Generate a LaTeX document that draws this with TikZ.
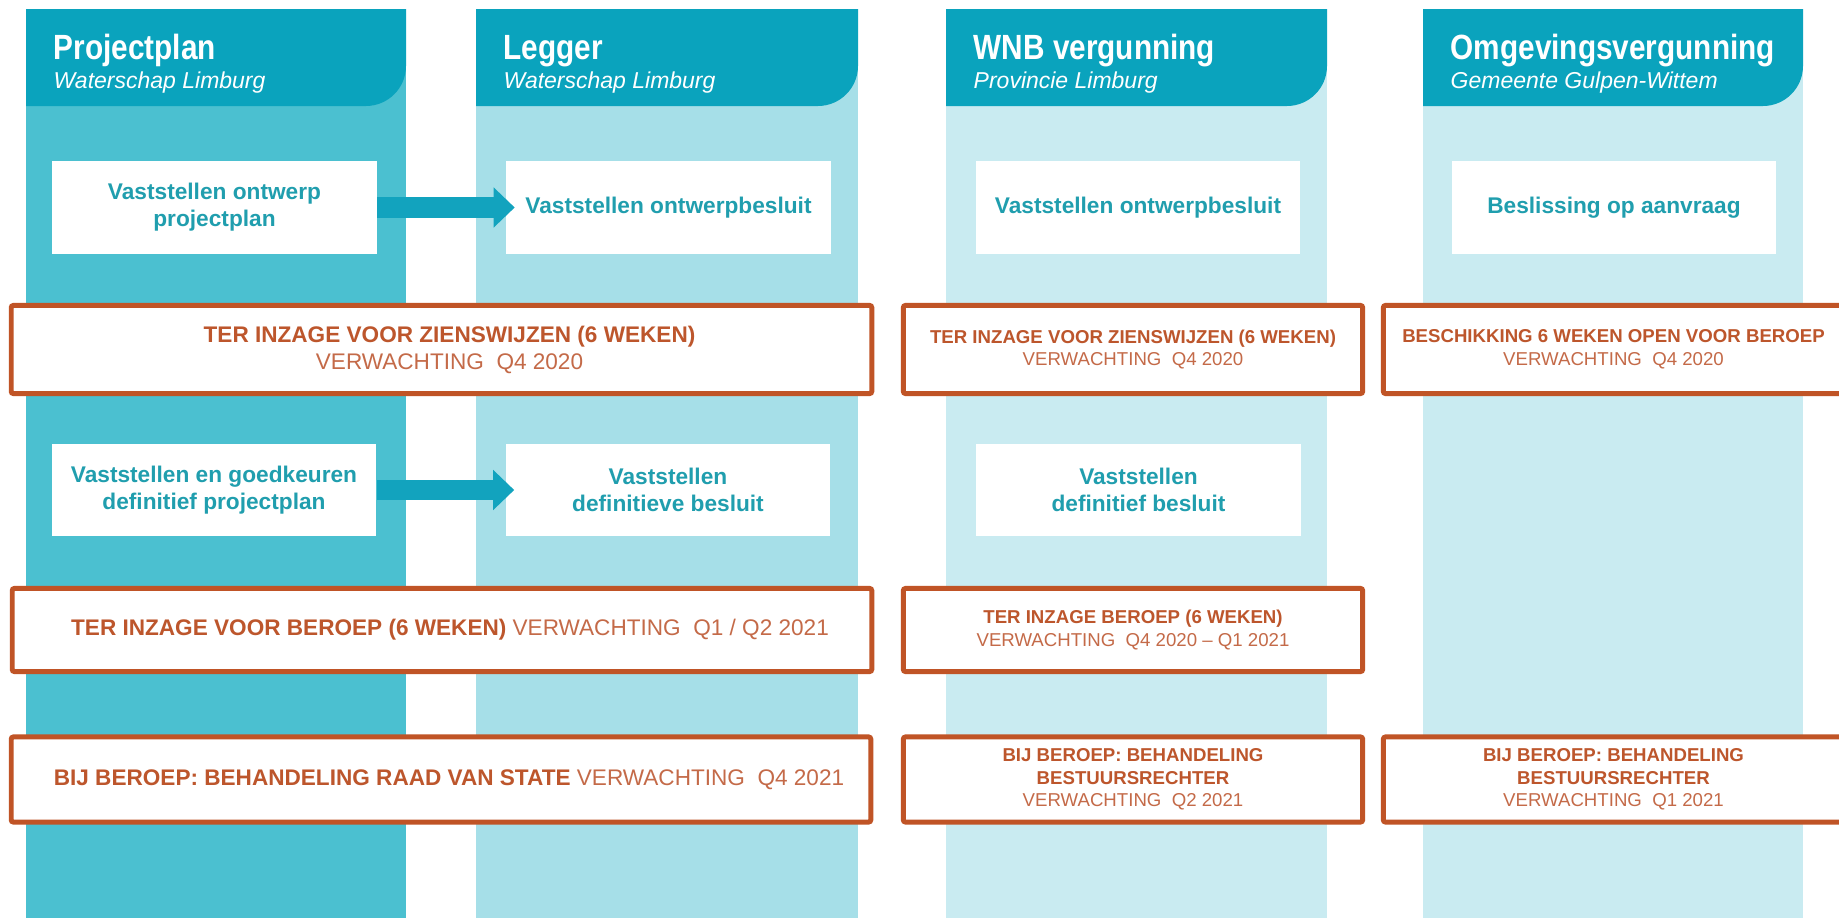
\documentclass[tikz,border=0pt]{standalone}
\usepackage{fontspec}
\setmainfont{Liberation Sans}
\newfontfamily\ttlfont[FakeStretch=0.85]{Liberation Sans}
\usetikzlibrary{arrows.meta}
\definecolor{hdr}{RGB}{10,163,189}
\definecolor{colA}{RGB}{75,192,208}
\definecolor{colB}{RGB}{166,223,232}
\definecolor{colC}{RGB}{201,235,241}
\definecolor{tealtxt}{RGB}{32,158,174}
\definecolor{orng}{RGB}{192,84,38}
\definecolor{orngtxt}{RGB}{189,86,44}
\definecolor{orngreg}{RGB}{196,106,72}
\definecolor{arrowc}{RGB}{18,163,190}
\newcommand\shiftr{\hspace*{0.16cm}}
\tikzset{
 whitebox/.style={fill=white, draw=none, inner sep=0pt, minimum width=3.24cm, minimum height=0.92cm, align=center, text=tealtxt, font=\fontsize{6.45pt}{7.7pt}\selectfont\bfseries},
 obox/.style={draw=orng, line width=1.42pt, fill=white, rounded corners=0.6pt, inner sep=0pt, align=center, text=orngtxt},
 obig/.style={obox, font=\fontsize{6.42pt}{7.7pt}\selectfont},
 osmall/.style={obox, font=\fontsize{5.3pt}{6.4pt}\selectfont},
 ttl/.style={anchor=base west, inner sep=0pt, text=white, font=\ttlfont\fontsize{9.96pt}{12pt}\selectfont\bfseries},
 sub/.style={anchor=base west, inner sep=0pt, text=white, font=\fontsize{6.54pt}{8pt}\selectfont\itshape},
 flow/.style={draw=arrowc, line width=5.7pt, -{Triangle[length=6pt,width=11.1pt]}, shorten >=-0.09cm},
}
\begin{document}
\begin{tikzpicture}[x=0.01cm,y=-0.01cm]
\clip (0,0) rectangle (1839,918);
\fill[white] (0,0) rectangle (1839,918);
% columns
\fill[colA] (26,9) rectangle (406,925);
\fill[colB] (476,9) rectangle (858,925);
\fill[colC] (946,9) rectangle (1327,925);
\fill[colC] (1423,9) rectangle (1803,925);
% headers
\fill[hdr] (26,9) -- (406,9) -- (406,66) .. controls (406,88) and (388,106) .. (366,106) -- (26,106) -- cycle;
\fill[hdr] (476,9) -- (858,9) -- (858,66) .. controls (858,88) and (840,106) .. (818,106) -- (476,106) -- cycle;
\fill[hdr] (946,9) -- (1327,9) -- (1327,66) .. controls (1327,88) and (1309,106) .. (1287,106) -- (946,106) -- cycle;
\fill[hdr] (1423,9) -- (1803,9) -- (1803,66) .. controls (1803,88) and (1785,106) .. (1763,106) -- (1423,106) -- cycle;
\node[ttl] (t1) at (53,60) {Projectplan};
\node[sub] (s1) at (53,88) {Waterschap Limburg};
\node[ttl] (t2) at (503,60) {Legger};
\node[sub] (s2) at (503,88) {Waterschap Limburg};
\node[ttl] (t3) at (973,60) {WNB vergunning};
\node[sub] (s3) at (973,88) {Provincie Limburg};
\node[ttl] (t4) at (1450,60) {Omgevingsvergunning};
\node[sub] (s4) at (1450,88) {Gemeente Gulpen-Wittem};
% white boxes
\node[whitebox] (w11) at (214.5,207.5) {Vaststellen ontwerp\\projectplan};
\node[whitebox] (w12) at (668.5,207.5) {Vaststellen ontwerpbesluit};
\node[whitebox] (w13) at (1138,207.5) {Vaststellen ontwerpbesluit};
\node[whitebox] (w14) at (1614,207.5) {Beslissing op aanvraag};
\node[whitebox] (w21) at (214,490) {Vaststellen en goedkeuren\\definitief projectplan};
\node[whitebox] (w22) at (668,490) {Vaststellen\\definitieve besluit};
\node[whitebox] (w23) at (1138.5,490) {Vaststellen\\definitief besluit};
% orange boxes
\node[obig, minimum width=8.60cm, minimum height=0.88cm] (o1a) at (441.5,349.5)
  {\shiftr\textbf{TER INZAGE VOOR ZIENSWIJZEN (6 WEKEN)}\\\shiftr\textcolor{orngreg}{VERWACHTING\ \ Q4 2020}};
\node[osmall, minimum width=4.59cm, minimum height=0.88cm] (o1b) at (1133,349.5)
  {\textbf{TER INZAGE VOOR ZIENSWIJZEN (6 WEKEN)}\\\textcolor{orngreg}{VERWACHTING\ \ Q4 2020}};
\node[osmall, minimum width=4.60cm, minimum height=0.88cm] (o1c) at (1613.5,349.5)
  {\textbf{BESCHIKKING 6 WEKEN OPEN VOOR BEROEP}\\\textcolor{orngreg}{VERWACHTING\ \ Q4 2020}};
\node[obig, minimum width=8.59cm, minimum height=0.83cm] (o2a) at (442,630)
  {\shiftr\textbf{TER INZAGE VOOR BEROEP (6 WEKEN)} \textcolor{orngreg}{VERWACHTING\ \ Q1 / Q2 2021}};
\node[osmall, minimum width=4.59cm, minimum height=0.83cm] (o2b) at (1133,630)
  {\textbf{TER INZAGE BEROEP (6 WEKEN)}\\\textcolor{orngreg}{VERWACHTING\ \ Q4 2020 – Q1 2021}};
\node[obig, minimum width=8.59cm, minimum height=0.85cm] (o3a) at (441,779.5)
  {\shiftr\textbf{BIJ BEROEP: BEHANDELING RAAD VAN STATE} \textcolor{orngreg}{VERWACHTING\ \ Q4 2021}};
\node[osmall, minimum width=4.59cm, minimum height=0.85cm] (o3b) at (1133,779.5)
  {\textbf{BIJ BEROEP: BEHANDELING}\\\textbf{BESTUURSRECHTER}\\\textcolor{orngreg}{VERWACHTING\ \ Q2 2021}};
\node[osmall, minimum width=4.60cm, minimum height=0.85cm] (o3c) at (1613.5,779.5)
  {\textbf{BIJ BEROEP: BEHANDELING}\\\textbf{BESTUURSRECHTER}\\\textcolor{orngreg}{VERWACHTING\ \ Q1 2021}};
% arrows
\draw[flow] (w11.east) -- (w12.west);
\draw[flow] (w21.east) -- (w22.west);
\end{tikzpicture}
\end{document}
